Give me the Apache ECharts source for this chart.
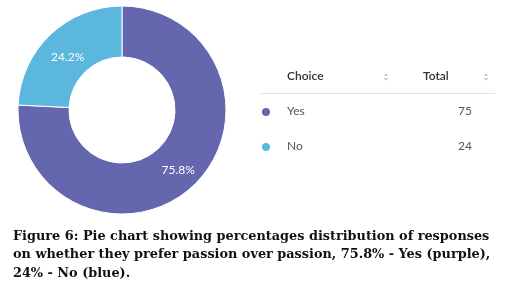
<!DOCTYPE html>
<html><head><meta charset="utf-8">
<script src="https://cdn.jsdelivr.net/npm/echarts@6/dist/echarts.min.js"></script>
<style>html,body{margin:0;padding:0;background:#fff;}#c{width:509px;height:292px;}</style>
</head><body><div id="c"></div>
<script>
const categories = ['Yes', 'No'];
const totals = [75, 24];
const colors = ['#6467ae', '#5bb7de'];
const headers = ['Choice', 'Total'];
const captionLines = [
  'Figure 6: Pie chart showing percentages distribution of responses',
  'on whether they prefer passion over passion, 75.8% - Yes (purple),',
  '24% - No (blue).'
];

const chart = echarts.init(document.getElementById('c'), null, {renderer: 'canvas'});
const sum = totals.reduce((a, b) => a + b, 0);
const labelOffsets = [[0, 1], [2, 6]];

const graphic = [];
graphic.push({type: 'text', left: 287, top: 70, style: {text: headers[0], font: '600 12px Lato', fill: '#333'}});
graphic.push({type: 'text', left: 423, top: 70, style: {text: headers[1], font: '600 12px Lato', fill: '#333'}});
function sortIcon(x, y) {
  graphic.push({type: 'polygon', shape: {points: [[x - 2, y - 1], [x + 2, y - 1], [x, y - 4]]}, style: {fill: '#c8c8c8'}});
  graphic.push({type: 'polygon', shape: {points: [[x - 2, y + 1], [x + 2, y + 1], [x, y + 4]]}, style: {fill: '#c8c8c8'}});
}
sortIcon(386, 77);
sortIcon(486, 77);
graphic.push({type: 'line', shape: {x1: 261, y1: 93.5, x2: 495, y2: 93.5}, style: {stroke: '#e2e2e2', lineWidth: 1}});
categories.forEach((c, i) => {
  const y = 112 + i * 35;
  graphic.push({type: 'circle', shape: {cx: 266, cy: y, r: 4}, style: {fill: colors[i]}});
  graphic.push({type: 'text', left: 287, top: y - 7, style: {text: c, font: '12px Lato', fill: '#555'}});
  graphic.push({type: 'text', x: 472, y: y - 7, style: {text: String(totals[i]), font: '12px Lato', fill: '#555', align: 'right'}});
});
captionLines.forEach((t, i) => {
  graphic.push({type: 'text', left: 13, top: 230 + i * 18.5, style: {text: t, font: 'bold 12.85px "DejaVu Serif"', fill: '#111'}});
});

chart.setOption({
  animation: false,
  color: colors,
  graphic: graphic,
  series: [{
    type: 'pie',
    center: [122, 110],
    radius: [53, 104],
    startAngle: 90,
    clockwise: true,
    itemStyle: {borderColor: '#fff', borderWidth: 1},
    label: {
      show: true, position: 'inside', color: '#fff', fontFamily: 'Lato', fontSize: 12,
      formatter: p => (p.value / sum * 100).toFixed(1) + '%'
    },
    labelLine: {show: false},
    data: categories.map((c, i) => ({name: c, value: totals[i], label: {offset: labelOffsets[i]}}))
  }]
});
</script></body></html>
